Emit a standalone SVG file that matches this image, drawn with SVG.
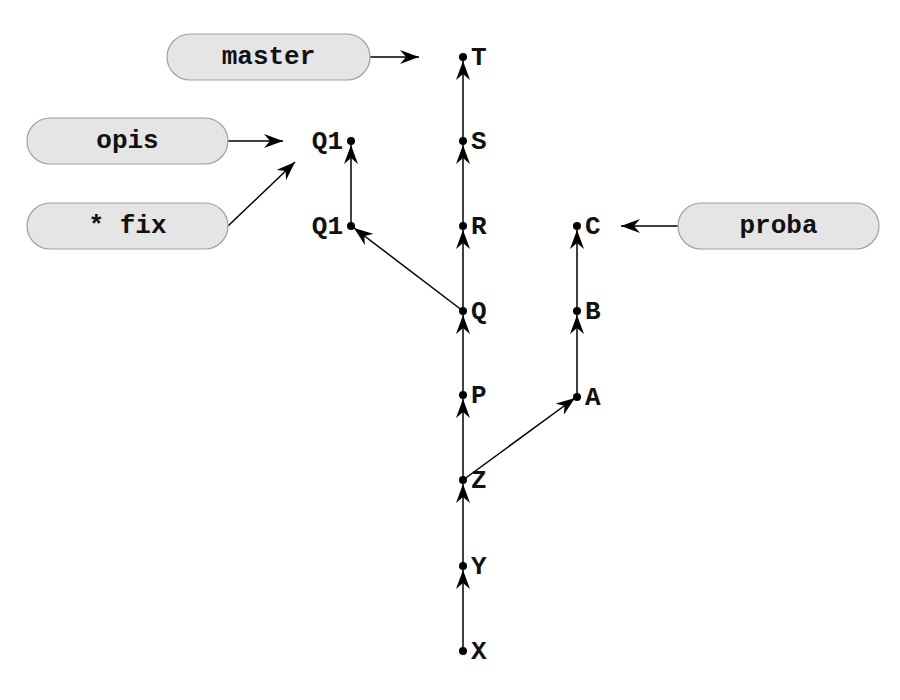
<svg xmlns="http://www.w3.org/2000/svg" width="900" height="700" viewBox="0 0 900 700">
<style>
.pill{fill:#e5e5e5;stroke:#a0a0a0;stroke-width:1.2}
.pt{font-family:"Liberation Mono","DejaVu Sans Mono",monospace;font-weight:bold;font-size:26px;fill:#111;text-anchor:middle;dominant-baseline:central}
.lb{font-family:"Liberation Mono","DejaVu Sans Mono",monospace;font-weight:bold;font-size:26px;fill:#111;dominant-baseline:central}
.dot{fill:#000}
.e{stroke:#000;stroke-width:1.5;fill:none;marker-end:url(#ah)}
</style>
<defs>
<marker id="ah" markerUnits="userSpaceOnUse" markerWidth="20" markerHeight="14" viewBox="0 0 20 14" refX="19" refY="7" orient="auto">
<path d="M0,0 L19,7 L0,14 L6,7 z" fill="#000"/>
</marker>
</defs>
<g id="connectors">
<line class="e" x1="463" y1="651" x2="463" y2="570"/>
<line class="e" x1="463" y1="566" x2="463" y2="484"/>
<line class="e" x1="463" y1="480" x2="463" y2="399"/>
<line class="e" x1="463" y1="395" x2="463" y2="315"/>
<line class="e" x1="463" y1="311" x2="463" y2="230"/>
<line class="e" x1="463" y1="226" x2="463" y2="145"/>
<line class="e" x1="463" y1="141" x2="463" y2="61"/>
<line class="e" x1="463" y1="480" x2="575" y2="398"/>
<line class="e" x1="577" y1="397" x2="577" y2="315"/>
<line class="e" x1="577" y1="311" x2="577" y2="230"/>
<line class="e" x1="463" y1="311" x2="354" y2="228"/>
<line class="e" x1="351" y1="226" x2="351" y2="145"/>
<line class="e" x1="370" y1="57" x2="419" y2="57"/>
<line class="e" x1="228" y1="141" x2="283" y2="141"/>
<line class="e" x1="228" y1="226" x2="295" y2="162"/>
<line class="e" x1="678" y1="226" x2="621" y2="226"/>
</g>
<g id="master"><rect class="pill" x="167" y="34" width="203" height="46" rx="23"/><text class="pt" x="268.5" y="57">master</text></g>
<g id="opis"><rect class="pill" x="27" y="118" width="201" height="46" rx="23"/><text class="pt" x="127.5" y="141">opis</text></g>
<g id="fix"><rect class="pill" x="27" y="203" width="201" height="46" rx="23"/><text class="pt" x="127.5" y="226">* fix</text></g>
<g id="proba"><rect class="pill" x="678" y="203" width="201" height="46" rx="23"/><text class="pt" x="778.5" y="226">proba</text></g>
<g id="T"><circle class="dot" cx="463" cy="57" r="4"/><text class="lb" x="471" y="58">T</text></g>
<g id="S"><circle class="dot" cx="463" cy="141" r="4"/><text class="lb" x="471" y="142">S</text></g>
<g id="R"><circle class="dot" cx="463" cy="226" r="4"/><text class="lb" x="471" y="227">R</text></g>
<g id="Q"><circle class="dot" cx="463" cy="311" r="4"/><text class="lb" x="471" y="312">Q</text></g>
<g id="P"><circle class="dot" cx="463" cy="395" r="4"/><text class="lb" x="471" y="396">P</text></g>
<g id="Z"><circle class="dot" cx="463" cy="480" r="4"/><text class="lb" x="471" y="481">Z</text></g>
<g id="Y"><circle class="dot" cx="463" cy="566" r="4"/><text class="lb" x="471" y="567">Y</text></g>
<g id="X"><circle class="dot" cx="463" cy="651" r="4"/><text class="lb" x="471" y="652">X</text></g>
<g id="C"><circle class="dot" cx="577" cy="226" r="4"/><text class="lb" x="585" y="227">C</text></g>
<g id="B"><circle class="dot" cx="577" cy="311" r="4"/><text class="lb" x="585" y="312">B</text></g>
<g id="A"><circle class="dot" cx="577" cy="397" r="4"/><text class="lb" x="585" y="398">A</text></g>
<g id="Q1top"><circle class="dot" cx="351" cy="141" r="4"/><text class="lb" x="343" y="142" text-anchor="end">Q1</text></g>
<g id="Q1low"><circle class="dot" cx="351" cy="226" r="4"/><text class="lb" x="343" y="227" text-anchor="end">Q1</text></g>
</svg>
